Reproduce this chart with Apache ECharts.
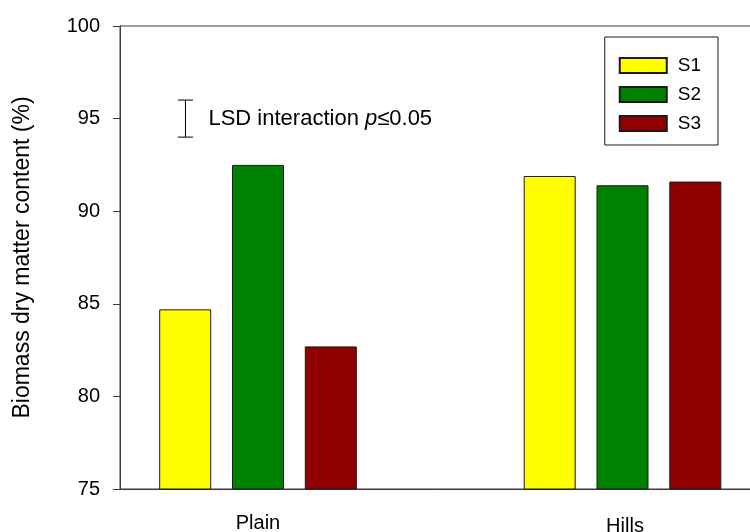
<!DOCTYPE html>
<html>
<head>
<meta charset="utf-8">
<script src="https://cdn.jsdelivr.net/npm/echarts@6/dist/echarts.min.js"></script>
<style>html,body{margin:0;padding:0;background:#fff}#c{width:750px;height:532px}</style>
</head>
<body>
<div id="c"></div>
<script>
const categories = ['Plain', 'Hills'];
const seriesNames = ['S1', 'S2', 'S3'];
const s1 = [84.7, 91.9];
const s2 = [92.5, 91.4];
const s3 = [82.7, 91.6];
const yTicks = [75, 80, 85, 90, 95, 100];
const lsdX = 0.8;
const lsdRange = [94, 96];
const lsdLabel = 'LSD interaction ';

const FONT = 'Liberation Sans, Arial, sans-serif';
const AX = '#3a3a3a';
const colors = ['#ffff00', '#008000', '#900000'];
const chart = echarts.init(document.getElementById('c'), null, {renderer: 'canvas'});

const barSeries = [s1, s2, s3].map((d, i) => ({
  name: seriesNames[i],
  type: 'bar',
  xAxisIndex: 1,
  yAxisIndex: 1,
  data: d,
  barWidth: 52,
  barGap: '40%',
  itemStyle: {color: colors[i], borderColor: '#1a1a1a', borderWidth: 1},
  emphasis: {disabled: true},
  z: 3
}));

const option = {
  animation: false,
  backgroundColor: '#fff',
  grid: [
    {left: 120, top: 26, bottom: 43, width: 640, outerBoundsMode: 'none', containLabel: false, show: true, borderColor: AX, borderWidth: 1, backgroundColor: 'transparent'},
    {left: 75.75, top: 26, bottom: 43, width: 729, outerBoundsMode: 'none', containLabel: false}
  ],
  legend: {
    data: seriesNames,
    orient: 'vertical',
    right: 32,
    top: 37,
    itemWidth: 47,
    itemHeight: 15,
    itemGap: 10,
    padding: [19, 17, 12, 14],
    borderColor: '#1a1a1a',
    borderWidth: 1,
    icon: 'rect',
    selectedMode: false,
    textStyle: {fontFamily: FONT, fontSize: 19, color: '#000', lineHeight: 15, padding: [0, 0, 0, 6]}
  },
  xAxis: [
    {type: 'value', gridIndex: 0, min: 0.62, max: 2.38, axisLine: {show: true, lineStyle: {color: AX}}, axisTick: {show: false}, axisLabel: {show: false}, splitLine: {show: false}},
    {type: 'category', gridIndex: 1, data: [
      {value: categories[0]},
      {value: categories[1], textStyle: {padding: [3, 0, 0, 5]}}
    ], axisLine: {show: false}, axisTick: {show: false},
     axisLabel: {fontFamily: FONT, fontSize: 20, color: '#000', margin: 24}}
  ],
  yAxis: [
    {type: 'value', gridIndex: 0, min: yTicks[0], max: yTicks[yTicks.length - 1], interval: 5,
     name: 'Biomass dry matter content (%)', nameLocation: 'middle', nameGap: 86,
     nameTextStyle: {fontFamily: FONT, fontSize: 23, color: '#000'},
     axisLine: {show: true, lineStyle: {color: AX}},
     axisTick: {show: true, length: 7, inside: false, lineStyle: {color: AX}},
     axisLabel: {fontFamily: FONT, fontSize: 20, color: '#000', margin: 20},
     splitLine: {show: false}},
    {type: 'value', gridIndex: 1, min: yTicks[0], max: yTicks[yTicks.length - 1], show: false, splitLine: {show: false}}
  ],
  series: barSeries.concat([{
    type: 'custom',
    name: 'LSD',
    xAxisIndex: 0,
    yAxisIndex: 0,
    data: [[lsdX, lsdRange[0], lsdRange[1]]],
    silent: true,
    z: 5,
    renderItem: function (params, api) {
      const lo = api.coord([api.value(0), api.value(1)]);
      const hi = api.coord([api.value(0), api.value(2)]);
      const mid = (lo[1] + hi[1]) / 2;
      const cap = 7.5;
      const st = {stroke: '#000', lineWidth: 1};
      return {
        type: 'group',
        children: [
          {type: 'line', shape: {x1: lo[0], y1: lo[1], x2: hi[0], y2: hi[1]}, style: st},
          {type: 'line', shape: {x1: lo[0] - cap, y1: lo[1], x2: lo[0] + cap, y2: lo[1]}, style: st},
          {type: 'line', shape: {x1: hi[0] - cap, y1: hi[1], x2: hi[0] + cap, y2: hi[1]}, style: st},
          {type: 'text', x: lo[0] + 23, y: mid, style: {
            text: lsdLabel + '{i|p}{u|≤}0.05',
            fontFamily: FONT, fontSize: 22, fill: '#000', verticalAlign: 'middle', align: 'left',
            rich: {i: {fontStyle: 'italic', fontFamily: FONT, fontSize: 22}, u: {fontFamily: FONT, fontSize: 22}}
          }}
        ]
      };
    }
  }])
};
chart.setOption(option);
</script>
</body>
</html>
